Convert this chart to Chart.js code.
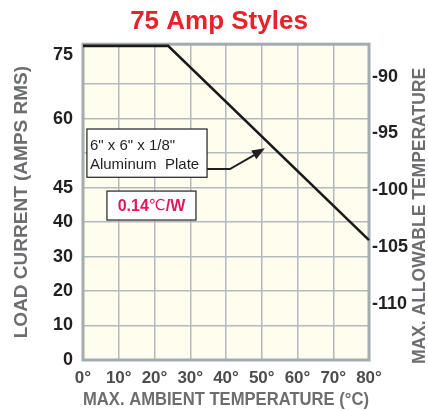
<!DOCTYPE html>
<html>
<head>
<meta charset="utf-8">
<title>75 Amp Styles</title>
<script src="https://cdn.jsdelivr.net/npm/chart.js@4.4.0/dist/chart.umd.min.js"></script>
<style>
html, body { margin: 0; padding: 0; background: #ffffff; }
#wrap { width: 428px; height: 411px; }
</style>
</head>
<body>
<div id="wrap"><canvas id="derating" width="428" height="411"></canvas></div>
<script>
// ambient temperature (deg C) along the bottom
var ambientTicks = [0, 10, 20, 30, 40, 50, 60, 70, 80];
// derating line, read against the right hand temperature axis
var lineAmbient = [0, 23.8, 80];
var lineAllowable = [-87.3, -87.3, -104.4];
// right axis labels
var allowableTicks = [-90, -95, -100, -105, -110];
// left axis: one label per grid row, bottom to top ('' = row without label)
var loadRowLabels = ['0', '10', '20', '30', '40', '45', '', '60', ''];
var loadTopLabel = '75';

var FONT = '"Liberation Sans", Arial, Helvetica, sans-serif';
var gridColor = '#b3babe';
var frameColor = '#a4acb0';
var titleGrey = '#6d6e71';

var ctx = document.getElementById('derating');

// cream plot area, grey frame, the two note boxes and the right axis title
var plotDecor = {
    id: 'plotDecor',
    beforeDraw: function(chart) {
        var a = chart.chartArea, c = chart.ctx;
        c.save();
        c.fillStyle = '#fffdee';
        c.fillRect(a.left, a.top, a.right - a.left, a.bottom - a.top);
        c.restore();
    },
    beforeDatasetsDraw: function(chart) {
        var a = chart.chartArea, c = chart.ctx;
        c.save();
        c.strokeStyle = frameColor;
        c.lineWidth = 3;
        c.strokeRect(a.left, a.top, a.right - a.left, a.bottom - a.top);
        c.restore();
    },
    afterDraw: function(chart) {
        var c = chart.ctx;
        var sx = chart.scales.x, sy = chart.scales.y;
        var px = function(v) { return sx.getPixelForValue(v); };
        var py = function(v) { return sy.getPixelForValue(v); };
        c.save();

        // note box: plate size
        var b1 = { l: px(1.1), r: px(34.7), t: py(6.70), b: py(5.30) };
        c.fillStyle = '#ffffff';
        c.fillRect(b1.l, b1.t, b1.r - b1.l, b1.b - b1.t);
        c.strokeStyle = '#231f20';
        c.lineWidth = 1.2;
        c.strokeRect(b1.l, b1.t, b1.r - b1.l, b1.b - b1.t);
        c.fillStyle = '#231f20';
        c.font = '15px ' + FONT;
        c.textBaseline = 'middle';
        c.textAlign = 'left';
        c.fillText('6" x 6" x 1/8"', b1.l + 3, py(6.20));
        c.fillText('Aluminum  Plate', b1.l + 3, py(5.65));

        // arrow from the box to the line
        var ex = px(41.1), ey = py(5.54), tx = px(50.9), ty = py(6.14);
        c.strokeStyle = '#231f20';
        c.lineWidth = 2;
        c.beginPath();
        c.moveTo(b1.r, ey);
        c.lineTo(ex, ey);
        c.lineTo(tx - 6, ty + 4);
        c.stroke();
        var ang = Math.atan2(ty - ey, tx - ex);
        c.beginPath();
        c.moveTo(tx, ty);
        c.lineTo(tx - 13 * Math.cos(ang) + 5 * Math.sin(ang), ty - 13 * Math.sin(ang) - 5 * Math.cos(ang));
        c.lineTo(tx - 13 * Math.cos(ang) - 5 * Math.sin(ang), ty - 13 * Math.sin(ang) + 5 * Math.cos(ang));
        c.closePath();
        c.fillStyle = '#231f20';
        c.fill();

        // note box: thermal resistance
        var b2 = { l: px(6.7), r: px(31.6), t: py(4.90), b: py(4.06) };
        c.fillStyle = '#ffffff';
        c.fillRect(b2.l, b2.t, b2.r - b2.l, b2.b - b2.t);
        c.strokeStyle = '#231f20';
        c.lineWidth = 1.2;
        c.strokeRect(b2.l, b2.t, b2.r - b2.l, b2.b - b2.t);
        var parts = [['0.14', 'bold 16px ' + FONT], ['\u2103', '15px "DejaVu Sans", sans-serif'], ['/W', 'bold 16px ' + FONT]];
        var total = 0, i;
        for (i = 0; i < parts.length; i++) {
            c.font = parts[i][1];
            total += c.measureText(parts[i][0]).width;
        }
        var cx = (b2.l + b2.r) / 2 - total / 2, cy = (b2.t + b2.b) / 2 + 1;
        c.fillStyle = '#e2185b';
        for (i = 0; i < parts.length; i++) {
            c.font = parts[i][1];
            c.fillText(parts[i][0], cx, cy);
            cx += c.measureText(parts[i][0]).width;
        }

        // right axis title, reading upwards
        c.translate(420, 216);
        c.rotate(-Math.PI / 2);
        c.font = 'bold 17.5px ' + FONT;
        c.fillStyle = titleGrey;
        c.textAlign = 'center';
        c.fillText('MAX. ALLOWABLE TEMPERATURE', 0, 0);
        c.restore();
    }
};

var deratingChart = new Chart(ctx.getContext('2d'), {
    type: 'line',
    data: {
        datasets: [{
            data: lineAmbient.map(function(t, i) { return { x: t, y: lineAllowable[i] }; }),
            yAxisID: 'y2',
            borderColor: '#1c1a1b',
            borderWidth: 2.6,
            pointRadius: 0,
            tension: 0,
            fill: false,
            clip: false
        }]
    },
    options: {
        responsive: false,
        animation: false,
        layout: { padding: { left: 10, right: 0, top: 0, bottom: 0 } },
        plugins: {
            legend: { display: false },
            tooltip: { enabled: false },
            title: {
                display: true,
                text: '75 Amp Styles',
                color: '#e8212b',
                font: { family: FONT, size: 26, weight: 'bold' },
                padding: { top: 6, bottom: 7 }
            }
        },
        scales: {
            x: {
                type: 'linear',
                min: 0,
                max: 80,
                afterBuildTicks: function(scale) {
                    scale.ticks = ambientTicks.map(function(v) { return { value: v }; });
                },
                afterFit: function(scale) { scale.height = 51; },
                border: { display: false },
                grid: { color: gridColor, lineWidth: 1.5, drawTicks: false },
                ticks: {
                    padding: 8,
                    color: '#4d4d4f',
                    autoSkip: false,
                    maxRotation: 0,
                    font: { family: FONT, size: 17, weight: 'bold' },
                    callback: function(v) { return v + '\u00b0'; }
                },
                title: {
                    display: true,
                    text: 'MAX. AMBIENT TEMPERATURE (\u00b0C)',
                    color: titleGrey,
                    font: { family: FONT, size: 18.5, weight: 'bold' },
                    padding: { top: 0, bottom: 0 }
                }
            },
            y: {
                type: 'linear',
                position: 'left',
                min: 0,
                max: 9.16,
                afterBuildTicks: function(scale) {
                    var t = loadRowLabels.map(function(l, i) { return { value: i }; });
                    t.push({ value: 8.84 });
                    scale.ticks = t;
                },
                afterFit: function(scale) { scale.width = 73; },
                border: { display: false },
                grid: {
                    lineWidth: 1.5,
                    drawTicks: false,
                    color: function(c) { return c.index < loadRowLabels.length ? gridColor : 'rgba(0,0,0,0)'; }
                },
                ticks: {
                    padding: 10,
                    color: '#231f20',
                    autoSkip: false,
                    font: { family: FONT, size: 18, weight: 'bold' },
                    callback: function(v, i) { return i < loadRowLabels.length ? loadRowLabels[i] : loadTopLabel; }
                },
                title: {
                    display: true,
                    text: 'LOAD CURRENT (AMPS RMS)',
                    color: titleGrey,
                    font: { family: FONT, size: 19, weight: 'bold' },
                    padding: { top: 0, bottom: 0 }
                }
            },
            y2: {
                type: 'linear',
                position: 'right',
                min: -114.96,
                max: -87.15,
                afterBuildTicks: function(scale) {
                    scale.ticks = allowableTicks.map(function(v) { return { value: v }; });
                },
                afterFit: function(scale) { scale.width = 59; },
                border: { display: false },
                grid: { display: false, drawTicks: false },
                ticks: {
                    padding: 3,
                    color: '#231f20',
                    autoSkip: false,
                    font: { family: FONT, size: 18, weight: 'bold' },
                    callback: function(v) { return String(v); }
                }
            }
        }
    },
    plugins: [plotDecor]
});
</script>
</body>
</html>
